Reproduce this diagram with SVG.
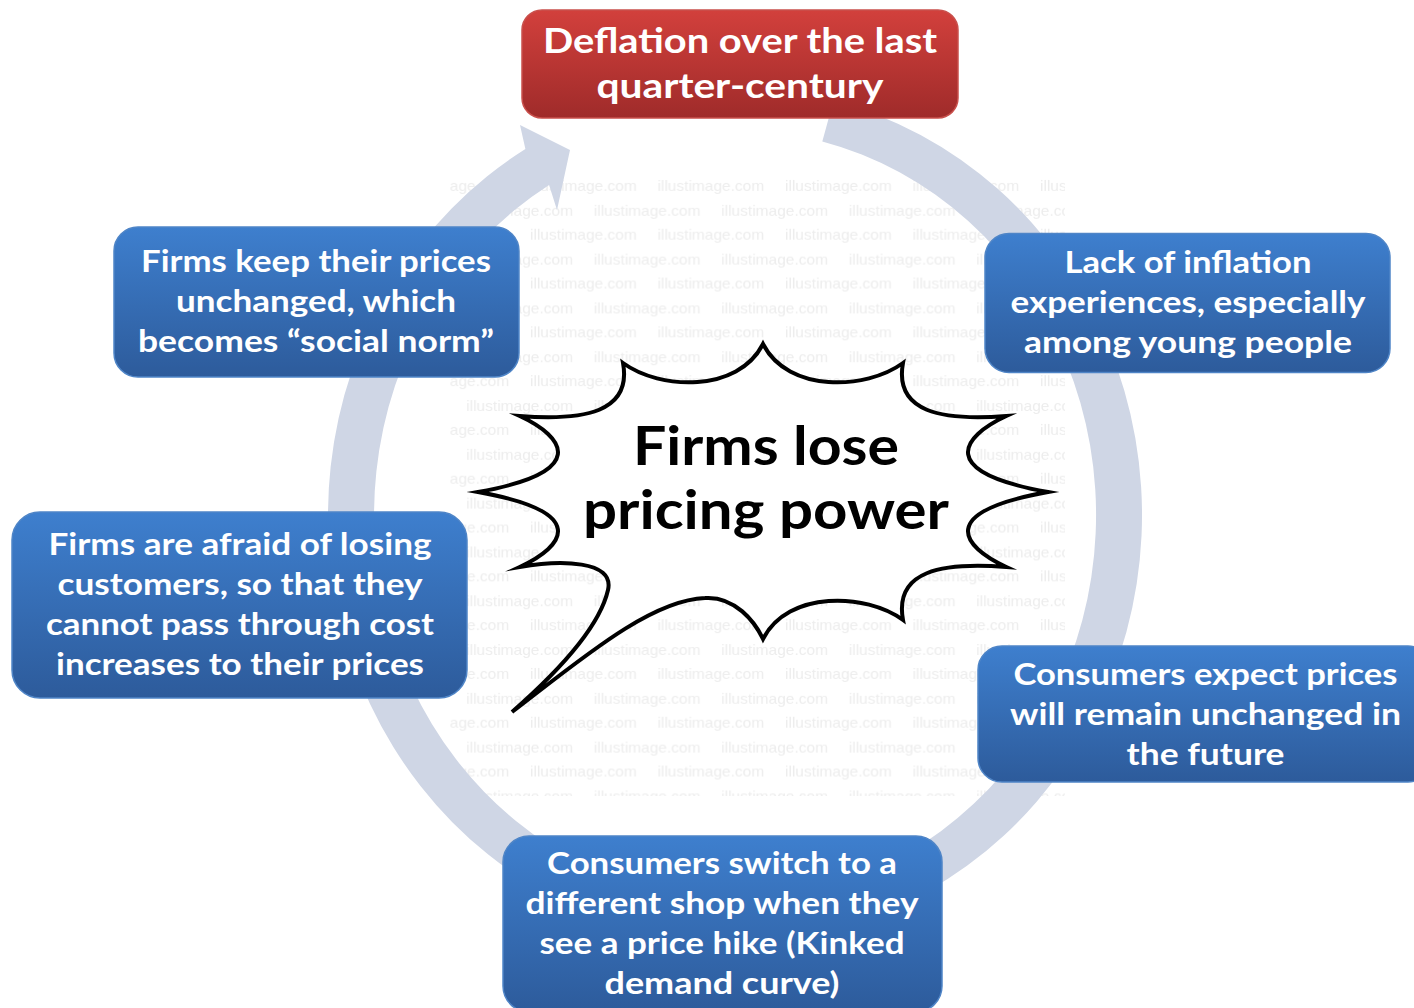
<svg xmlns="http://www.w3.org/2000/svg" width="1414" height="1008" viewBox="0 0 1414 1008">
  <style>
    .wm { font-family: "Liberation Sans", Arial, sans-serif; font-size: 15.5px; fill: #ededed; }
    .bt { font-family: Lato, "Open Sans", "DejaVu Sans", sans-serif; font-weight: bold; font-size: 30.5px; fill: #ffffff; text-anchor: middle; }
    .rt { font-family: Lato, "Open Sans", "DejaVu Sans", sans-serif; font-weight: bold; font-size: 35px; fill: #ffffff; text-anchor: middle; }
    .ct { font-family: Lato, "Open Sans", "DejaVu Sans", sans-serif; font-weight: bold; font-size: 53px; fill: #000000; text-anchor: middle; }
    .blue { fill: url(#gBlue); stroke: #4f85c7; stroke-width: 1.5; }
    .red { fill: url(#gRed); stroke: #c9504c; stroke-width: 1.5; }
  </style>
  <defs>
    <linearGradient id="gBlue" x1="0" y1="0" x2="0" y2="1">
      <stop offset="0" stop-color="#3e7fce"/>
      <stop offset="1" stop-color="#2d5b9b"/>
    </linearGradient>
    <linearGradient id="gRed" x1="0" y1="0" x2="0" y2="1">
      <stop offset="0" stop-color="#d2403c"/>
      <stop offset="1" stop-color="#9f2b2a"/>
    </linearGradient>
    <pattern id="wm" patternUnits="userSpaceOnUse" x="402.5" y="172" width="127.5" height="48.8">
      <text class="wm" x="0" y="19">illustimage.com</text>
      <text class="wm" x="63.75" y="43.4">illustimage.com</text>
      <text class="wm" x="-63.75" y="43.4">illustimage.com</text>
    </pattern>
  </defs>

  <rect x="0" y="0" width="1414" height="1008" fill="#ffffff"/>
  <rect id="watermark" x="450" y="174" width="615" height="622" fill="url(#wm)"/>

  <g id="connectors">
    <path id="cycle-arrow" fill="#cfd6e5" d="M 833.5 100.7 A 407 427 0 1 1 525.4 149.0 L 520 125 L 570 150 L 557 210 L 549.1 185.0 A 361 385 0 1 0 822.3 141.4 Z"/>
  </g>

  <g id="center-burst">
    <path fill="#ffffff" stroke="#000000" stroke-width="4" stroke-linejoin="miter" stroke-miterlimit="20"
      d="M 763 344
         C 788 393 866 390 903 363
         C 894 412 941 421 1006.3 416
         C 961 437 936 472 1048 492
         C 936 512 961 546 1006.3 567
         C 941 562 894 571 903 620
         C 866 593 788 590 763 639
         C 755 622 735 596 705 598
         C 650 600 580 660 512 712
         C 560 670 600 625 608 590
         C 615 560 560 560 519.7 567
         C 565 546 590 512 478 492
         C 590 472 565 437 519.7 416
         C 585 421 632 412 623 363
         C 660 390 738 393 763 344 Z"/>
    <text class="ct"><tspan x="766" y="465" textLength="266" lengthAdjust="spacingAndGlyphs">Firms lose</tspan><tspan x="766" y="529" textLength="366" lengthAdjust="spacingAndGlyphs">pricing power</tspan></text>
  </g>

  <g id="node-deflation">
    <rect class="red" x="522" y="10" width="436" height="108" rx="20"/>
    <text class="rt" x="740" y="53" textLength="394" lengthAdjust="spacingAndGlyphs">Deflation over the last</text>
    <text class="rt" x="740" y="98" textLength="287" lengthAdjust="spacingAndGlyphs">quarter-century</text>
  </g>

  <g id="node-lack-inflation">
    <rect class="blue" x="985" y="233.5" width="405" height="139" rx="24"/>
    <text class="bt" x="1188" y="273" textLength="247" lengthAdjust="spacingAndGlyphs">Lack of inflation</text>
    <text class="bt" x="1188" y="313" textLength="355" lengthAdjust="spacingAndGlyphs">experiences, especially</text>
    <text class="bt" x="1188" y="353" textLength="328" lengthAdjust="spacingAndGlyphs">among young people</text>
  </g>

  <g id="node-consumers-expect">
    <rect class="blue" x="978" y="646" width="454" height="136" rx="24"/>
    <text class="bt" x="1205.5" y="685" textLength="384" lengthAdjust="spacingAndGlyphs">Consumers expect prices</text>
    <text class="bt" x="1205.5" y="725" textLength="391" lengthAdjust="spacingAndGlyphs">will remain unchanged in</text>
    <text class="bt" x="1205.5" y="765" textLength="158" lengthAdjust="spacingAndGlyphs">the future</text>
  </g>

  <g id="node-consumers-switch">
    <rect class="blue" x="503" y="836" width="439" height="176" rx="26"/>
    <text class="bt" x="722" y="874" textLength="350" lengthAdjust="spacingAndGlyphs">Consumers switch to a</text>
    <text class="bt" x="722" y="914" textLength="393" lengthAdjust="spacingAndGlyphs">different shop when they</text>
    <text class="bt" x="722" y="954" textLength="365" lengthAdjust="spacingAndGlyphs">see a price hike (Kinked</text>
    <text class="bt" x="722" y="994" textLength="235" lengthAdjust="spacingAndGlyphs">demand curve)</text>
  </g>

  <g id="node-firms-afraid">
    <rect class="blue" x="12" y="512" width="455" height="186" rx="28"/>
    <text class="bt" x="240" y="555" textLength="383" lengthAdjust="spacingAndGlyphs">Firms are afraid of losing</text>
    <text class="bt" x="240" y="595" textLength="365" lengthAdjust="spacingAndGlyphs">customers, so that they</text>
    <text class="bt" x="240" y="635" textLength="388" lengthAdjust="spacingAndGlyphs">cannot pass through cost</text>
    <text class="bt" x="240" y="675" textLength="368" lengthAdjust="spacingAndGlyphs">increases to their prices</text>
  </g>

  <g id="node-firms-keep">
    <rect class="blue" x="114" y="227" width="405" height="150" rx="24"/>
    <text class="bt" x="316" y="272" textLength="350" lengthAdjust="spacingAndGlyphs">Firms keep their prices</text>
    <text class="bt" x="316" y="312" textLength="280" lengthAdjust="spacingAndGlyphs">unchanged, which</text>
    <text class="bt" x="316" y="352" textLength="356" lengthAdjust="spacingAndGlyphs">becomes “social norm”</text>
  </g>
</svg>
